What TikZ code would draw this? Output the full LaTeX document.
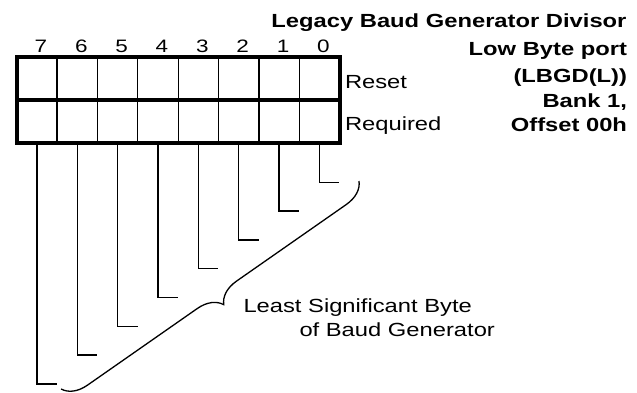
\documentclass[tikz,border=0pt]{standalone}
\usepackage{fontspec}
\setmainfont[FakeStretch=1.25]{Liberation Sans}
\usetikzlibrary{positioning, decorations.pathreplacing, calc}

\begin{document}
\begin{tikzpicture}[x=1pt, y=-1pt,
    every node/.style={inner sep=0pt, outer sep=0pt},
    cell/.style={draw, line width=1.3pt, minimum width=40.36pt, minimum height=42.7pt},
    bitnum/.style={anchor=base, font=\fontsize{18}{20}\selectfont},
    lbl/.style={anchor=base west, font=\fontsize{19}{23}\selectfont},
    ttl/.style={font=\bfseries\fontsize{19}{24.4}\selectfont, align=right},
    frame/.style={line width=3.8pt},
    lead/.style={line width=1.3pt},
    brc/.style={line width=1.3pt, decorate, decoration={brace, amplitude=24pt}}
]
\useasboundingbox (0,0) rectangle (637,392);
% register cells, bit 7 on the left
\foreach \b in {0,...,7} {
  \pgfmathsetmacro\x{36.9+40.36*(7-\b)}
  \node[cell] (r\b) at (\x,78.65) {};
  \node[cell] (q\b) at (\x,121.35) {};
  \node[bitnum] (n\b) at (\x+4,52.5) {\b};
  \coordinate (e\b) at (\x+20,182.3+28.8*\b);
  \draw[lead] (q\b.south) |- (e\b);
}
\draw[frame] (r7.north west) rectangle (q0.south east);
\draw[frame] (r7.south west) -- (r0.south east);
\node[lbl] (rst) at (345,88) {Reset};
\node[lbl] (req) at (345,130) {Required};
\node[ttl, anchor=base east] (title) at (626.5,27) {Legacy Baud Generator Divisor};
\node[ttl, anchor=north east] (port) at (627,42)
  {Low Byte port\\[3.5pt](LBGD(L))\hspace*{5pt}\\Bank 1,\\Offset 00h};
% brace over the leader ends
\coordinate (btop) at (359,181);
\coordinate (bbot) at (61,389);
\draw[brc] (btop) -- (bbot);
\node[lbl, anchor=north west, align=left, font=\fontsize{19}{23.5}\selectfont] (lsb) at (243.5,299)
  {Least Significant Byte\\\hspace*{56pt}of Baud Generator};
\end{tikzpicture}
\end{document}
